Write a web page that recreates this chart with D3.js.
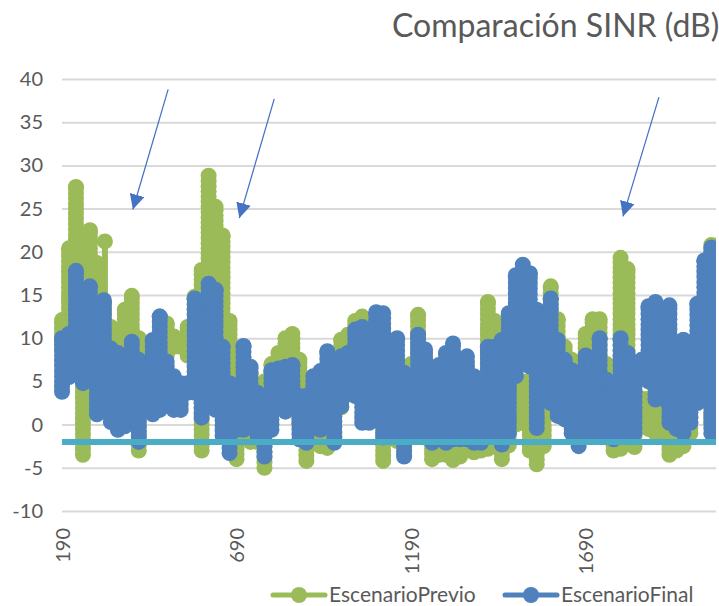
<!DOCTYPE html>
<html>
<head>
<meta charset="utf-8">
<script src="https://d3js.org/d3.v7.min.js"></script>
<style>
  html, body { margin: 0; background: #fff; }
  svg { display: block; }
  text { font-family: Lato, "Open Sans", sans-serif; fill: #595959; }
</style>
</head>
<body>
<div id="chart-area"></div>
<script>
var title = "Comparación SINR (dB)";
var seriesNames = ["EscenarioPrevio", "EscenarioFinal"];
var yTicks = [40, 35, 30, 25, 20, 15, 10, 5, 0, -5, -10];
var xTicks = [190, 690, 1190, 1690];
var threshold = -2;

// The series swing too fast to read point by point, so each one is read
// as highest and lowest value in every stretch of 20 samples
var samples = d3.range(190, 2090, 20);

var previoHigh = [
  12.1, 20.4, 27.5, 20.6, 22.5, 18.7, 14, 11.3, 6, 13.3,
  14.9, 10, 6, 9, 8, 11.7, 10.2, 9.8, 11.3, 14.8,
  17.9, 28.8, 25.2, 21.9, 12, 6.3, 7, 6, 4, 5,
  7, 8.3, 10, 10.5, 7.5, 3, 3, 5, 5, 5,
  9.8, 10.4, 12, 12.5, 11, 10, 5, 5, 5, 3,
  7, 12.7, 8, 4, 3, 3, 3, 3, 3, 2,
  2, 14.2, 12, 5, 4, 5, 5, 5, 5, 4,
  16, 12.2, 9, 7.5, 6, 10.5, 12.2, 12.2, 7, 5,
  19.3, 18, 4, 3, 3, 3, 3, 3, 3, 3,
  3, 3, 8, 20.8, 20.8
];
var previoLow = [
  8.7, 8.7, 10, -3.5, 6, 6, 6, 6, 3, 5,
  5, -3, 2, 5, 5, 8, 9, 9, 8, 5,
  -3, 3, 5, 8, 5, -4, 2, -2, -2, -5,
  2, 6, 7, 7, 0, -4.2, -1.5, -2.5, -2.7, -2,
  2, 5, 5, 2.5, 3, 1, -4.2, -1, -1.9, -3.5,
  -1, 3, -1.5, -4, -3.5, -3.5, -4.1, -3.7, -3, -3.2,
  -3, -2.8, 3, -4, -2.4, 0, 0.2, -3, -4.6, -2.5,
  2, 3, 3, 3, 3, 4, 4, 4, 1, -3,
  -2.8, 5, -2.6, 0, -0.5, -1, -1, -3.5, -3, -2.5,
  -1, 6, 8, 0, -1
];

// lone spike standing on a thin line: [sample, top, foot]
var previoSpikes = [[313, 21.2, 12]];

var finalHigh = [
  10, 10.5, 17.8, 11, 16, 14, 14.4, 8.8, 8.3, 7.3,
  9.6, 7.5, 6.7, 9.8, 12.5, 7.3, 5.6, 4.8, 4.8, 14.6,
  11.3, 16.3, 15.6, 9, 4.8, 4.4, 9.1, 6.7, 3.7, 3.3,
  6.3, 6.5, 6.7, 6.9, 3.3, 3.3, 5.6, 6.2, 8.5, 7.3,
  7.9, 8.3, 11, 11.3, 11, 13, 12.9, 8.7, 10, 6,
  4.5, 10.4, 8.7, 2, 6.9, 8.3, 9.4, 6.7, 7.9, 5.6,
  4.8, 9, 9, 9.8, 12.9, 17.3, 18.5, 17.5, 13.3, 12.9,
  14.6, 9.8, 7.5, 6.3, 4, 8, 7, 10, 5.2, 4.8,
  10, 8.3, 6, 7.5, 13.7, 14.2, 12.5, 13.8, 7.5, 9.8,
  6.7, 14, 19, 20.5, 20
];
var finalLow = [
  3.8, 5.5, 6.7, 4.8, 6.3, 1.2, 2, 0.3, -0.6, -0.2,
  0.2, -2, 3, 1.2, 1.7, 2.5, 1.7, 1.7, 3.7, 3.7,
  0.8, 4.4, 1.7, -1.3, -3.3, -0.6, -0.6, 1.7, -1.3, -3.7,
  -0.6, 2.9, 1.5, 4.4, -1.7, -2.1, -0.4, -0.6, -0.2, -2.1,
  2.1, 3.5, 3.3, 0.2, 0.2, 2.5, -1.5, -1, -1, -3.7,
  -1.3, 1, -1.3, -2.1, -1.7, -2.1, -1.7, -1.7, -1.7, -2.1,
  -2.1, -1.3, -1.3, -2.3, -1, 5.6, 7.1, 6.7, -0.4, 4.8,
  2.5, 1, 0.6, -1, -2.5, -1, -1, -1, -1, -1.7,
  -1, -1, -1, 5.6, 5, 2.9, 3, 0.2, -0.5, -1,
  0.2, 2.5, 8.7, -1, -1
];

// hand drawn arrows, in chart units: [x start, y start, x tip, y tip]
var arrows = [
  [494, 38.8, 393, 24.9],
  [798, 37.7, 698, 23.9],
  [1900, 37.9, 1797, 24.1]
];

var colorPrevio = "#9bbb59";
var colorFinal = "#4f81bd";
var colorThreshold = "#4bacc6";

var svg = d3.select("#chart-area")
  .append("svg")
  .attr("width", 719)
  .attr("height", 606);

// Scales
var x = d3.scaleLinear()
  .domain([190, 2072])
  .range([62, 719]);

var y = d3.scaleLinear()
  .domain([-10, 40])
  .range([511, 79]);

var defs = svg.append("defs");

// Clip the right edge, the picture is cut there
defs.append("clipPath")
  .attr("id", "plot-clip")
  .append("rect")
  .attr("x", 0)
  .attr("y", 0)
  .attr("width", 716)
  .attr("height", 606);

// The reference is a soft screenshot
defs.append("filter")
  .attr("id", "soft")
  .append("feGaussianBlur")
  .attr("stdDeviation", 0.6);

// Y axis with gridlines
var yAxis = svg.append("g")
  .attr("transform", "translate(62,0)")
  .call(d3.axisLeft(y).tickValues(yTicks).tickSize(-654).tickPadding(19).tickFormat(d => String(d)));

yAxis.select(".domain").remove();
yAxis.selectAll("line")
  .attr("stroke", "#d9d9d9")
  .attr("stroke-width", 2);
yAxis.selectAll("text")
  .attr("font-size", 20);

// X axis, labels turned upright
var xAxis = svg.append("g")
  .attr("transform", "translate(0,511)")
  .call(d3.axisBottom(x).tickValues(xTicks).tickSize(0).tickFormat(d3.format("d")));

xAxis.select(".domain").remove();
xAxis.selectAll("text")
  .attr("font-size", 20)
  .attr("text-anchor", "end")
  .attr("transform", "rotate(-90,0,17)")
  .attr("x", 0)
  .attr("y", 17)
  .attr("dy", "0.35em");

// Series
var plot = svg.append("g").attr("clip-path", "url(#plot-clip)");

// Markers of one stretch pile up from its low to its high
function drawSeries(high, low, color, spikes) {
  var g = plot.append("g").attr("filter", "url(#soft)");

  g.selectAll(".spike-line")
    .data(spikes)
    .enter()
    .append("line")
    .attr("class", "spike-line")
    .attr("x1", d => x(d[0]))
    .attr("x2", d => x(d[0]))
    .attr("y1", d => y(d[1]))
    .attr("y2", d => y(d[2]))
    .attr("stroke", color)
    .attr("stroke-width", 6);

  var markers = spikes.map(d => ({ x: d[0], value: d[1] }));
  samples.forEach((s, i) => {
    d3.range(low[i], high[i], 0.6).concat(high[i]).forEach(v => {
      markers.push({ x: s, value: v });
    });
  });

  g.selectAll("circle")
    .data(markers)
    .enter()
    .append("circle")
    .attr("cx", d => x(d.x))
    .attr("cy", d => y(d.value))
    .attr("r", 8)
    .attr("fill", color);
}

drawSeries(previoHigh, previoLow, colorPrevio, previoSpikes);
drawSeries(finalHigh, finalLow, colorFinal, []);

// Threshold line
plot.append("line")
  .attr("x1", x(190))
  .attr("x2", 719)
  .attr("y1", y(threshold))
  .attr("y2", y(threshold))
  .attr("stroke", colorThreshold)
  .attr("stroke-width", 6);

// Arrows
defs.append("marker")
  .attr("id", "arrow-head")
  .attr("viewBox", "0 0 10 10")
  .attr("refX", 10)
  .attr("refY", 5)
  .attr("markerUnits", "userSpaceOnUse")
  .attr("markerWidth", 15)
  .attr("markerHeight", 15)
  .attr("orient", "auto")
  .append("path")
  .attr("d", "M0,0L10,5L0,10Z")
  .attr("fill", "#4472c4");

svg.selectAll(".arrow")
  .data(arrows)
  .enter()
  .append("line")
  .attr("class", "arrow")
  .attr("x1", d => x(d[0]))
  .attr("y1", d => y(d[1]))
  .attr("x2", d => x(d[2]))
  .attr("y2", d => y(d[3]))
  .attr("stroke", "#4472c4")
  .attr("stroke-width", 1.25)
  .attr("marker-end", "url(#arrow-head)");

// Title
svg.append("text")
  .attr("x", 392)
  .attr("y", 37)
  .attr("font-size", 32)
  .text(title);

// Legend
var legend = svg.selectAll(".legend")
  .data(seriesNames)
  .enter()
  .append("g")
  .attr("class", "legend")
  .attr("transform", (d, i) => "translate(" + [273, 505][i] + ",595)");

legend.append("line")
  .attr("x1", 0)
  .attr("x2", 52)
  .attr("stroke", (d, i) => [colorPrevio, colorFinal][i])
  .attr("stroke-width", 5)
  .attr("stroke-linecap", "round");

legend.append("circle")
  .attr("cx", 26)
  .attr("r", 8)
  .attr("fill", (d, i) => [colorPrevio, colorFinal][i]);

legend.append("text")
  .attr("x", 56)
  .attr("dy", "0.35em")
  .attr("font-size", 21)
  .text(d => d);
</script>
</body>
</html>
